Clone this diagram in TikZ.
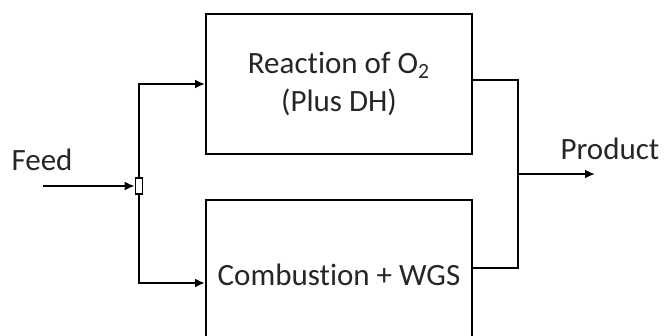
\documentclass[tikz,border=0pt]{standalone}
\usepackage{fontspec}
\setmainfont[Ligatures=NoCommon]{Carlito}
\usetikzlibrary{arrows.meta}

\begin{document}
\begin{tikzpicture}[x=0.5pt, y=-0.5pt,
    every node/.style={font=\fontsize{15.5}{18.6}\selectfont, text=black!85},
    unit/.style={draw=black, line width=1pt, minimum width=133pt, align=center, inner sep=0pt},
    flow/.style={line width=1pt, -{Latex[length=5pt,width=4.5pt]}},
    pipe/.style={line width=1pt}]
    \useasboundingbox (0,0) rectangle (664,336);

    % Units
    \node[unit, minimum height=70pt] (rxn) at (339,84) {Reaction of O\textsubscript{2}\\(Plus DH)};
    \node[unit, minimum height=75pt] (comb) at (339,275) {Combustion + WGS};

    % Feed and splitter
    \node[draw=black, line width=0.8pt, minimum width=3.5pt, minimum height=8pt, inner sep=0pt] (split) at (139,186) {};
    \coordinate (feed) at (43,186);
    \node (feedlbl) at (42,160) {Feed};
    \draw[flow] (feed) -- (split.west);
    \draw[flow] (split.north) |- (rxn.west);
    \draw[flow] (split.south) |- ([yshift=-4pt]comb.west);

    % Mixing and product
    \coordinate (mix) at (518,174);
    \coordinate (prod) at (595,174);
    \node (prodlbl) at (610,149) {Product};
    \draw[pipe] ([yshift=2pt]rxn.east) -| (mix) |- ([yshift=3.5pt]comb.east);
    \draw[flow] (mix) -- (prod);
  \end{tikzpicture}
\end{document}
